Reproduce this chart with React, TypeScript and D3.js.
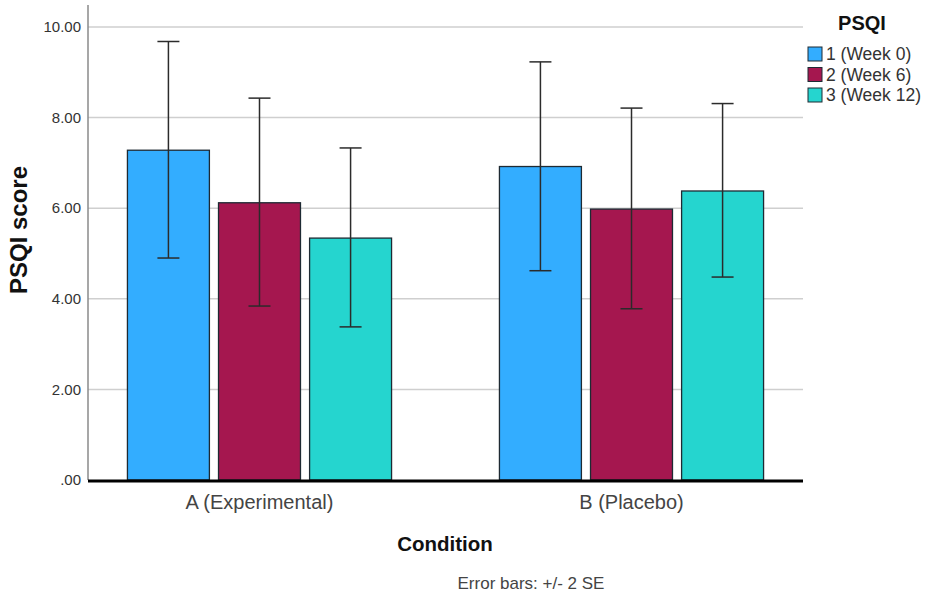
import React from "react";
import * as d3 from "d3";

const conditions = ["A (Experimental)", "B (Placebo)"];
const seriesNames = ["1 (Week 0)", "2 (Week 6)", "3 (Week 12)"];
const seriesColors = ["#33adff", "#a5174f", "#25d5cf"];
const meanA = [7.28, 6.12, 5.34];
const meanB = [6.92, 5.98, 6.38];
const lowA = [4.9, 3.84, 3.38];
const highA = [9.68, 8.43, 7.33];
const lowB = [4.62, 3.78, 4.48];
const highB = [9.23, 8.21, 8.31];
const yTicks = [0, 2, 4, 6, 8, 10];
const yTickLabels = [".00", "2.00", "4.00", "6.00", "8.00", "10.00"];

const means = [meanA, meanB];
const lows = [lowA, lowB];
const highs = [highA, highB];

export default function App() {
  const W = 935, H = 600;
  const left = 88, right = 803, top = 5, bottom = 480;
  const y = d3.scaleLinear().domain([0, 10]).range([bottom, 27]);
  const x0 = d3.scaleBand().domain(conditions).range([left, right]).paddingInner(0.29).paddingOuter(0.106);
  const x1 = d3.scaleBand().domain(seriesNames).range([0, x0.bandwidth()]).paddingInner(0.1);
  const font = "Arial, 'Liberation Sans', sans-serif";
  const capHalf = 11;
  return (
    <svg width={W} height={H} style={{ position: "absolute", left: 0, top: 0, background: "#fff" }} fontFamily={font}>
      <rect width={W} height={H} fill="#fff" />
      {yTicks.filter(t => t > 0).map(t => (
        <line key={t} x1={left} x2={right} y1={y(t)} y2={y(t)} stroke="#cfcfcf" strokeWidth={1.5} />
      ))}
      <line x1={left} x2={left} y1={top} y2={bottom} stroke="#8a8a8a" strokeWidth={1.5} />
      {yTicks.map((t, i) => (
        <text key={t} x={81} y={y(t)} dy="0.35em" textAnchor="end" fontSize={15} fill="#333">{yTickLabels[i]}</text>
      ))}
      {conditions.map((c, ci) => (
        <g key={c}>
          {seriesNames.map((s, si) => {
            const bx = (x0(c) as number) + (x1(s) as number);
            const bw = x1.bandwidth();
            return (
              <rect key={s} x={bx} y={y(means[ci][si])} width={bw} height={y(0) - y(means[ci][si])}
                fill={seriesColors[si]} stroke="#1e2a33" strokeWidth={1.3} />
            );
          })}
          {seriesNames.map((s, si) => {
            const cx = (x0(c) as number) + (x1(s) as number) + x1.bandwidth() / 2;
            const yl = y(lows[ci][si]), yh = y(highs[ci][si]);
            return (
              <g key={s + "e"} stroke="#2b2b2b" strokeWidth={1.5}>
                <line x1={cx} x2={cx} y1={yh} y2={yl} />
                <line x1={cx - capHalf} x2={cx + capHalf} y1={yh} y2={yh} />
                <line x1={cx - capHalf} x2={cx + capHalf} y1={yl} y2={yl} />
              </g>
            );
          })}
          <text x={(x0(c) as number) + x0.bandwidth() / 2} y={509} textAnchor="middle" fontSize={20} fill="#444">{c}</text>
        </g>
      ))}
      <line x1={left} x2={right} y1={bottom + 1} y2={bottom + 1} stroke="#000" strokeWidth={3} />
      <text transform={`translate(27, 230) rotate(-90)`} textAnchor="middle" fontSize={24} fontWeight="bold" fill="#111">PSQI score</text>
      <text x={445} y={551} textAnchor="middle" fontSize={20.5} fontWeight="bold" fill="#111">Condition</text>
      <text x={531} y={589} textAnchor="middle" fontSize={17} fill="#444">Error bars: +/- 2 SE</text>
      <text x={862} y={30} textAnchor="middle" fontSize={20} fontWeight="bold" fill="#111">PSQI</text>
      {seriesNames.map((s, si) => (
        <g key={s}>
          <rect x={808} y={47 + si * 20.5} width={14} height={14} fill={seriesColors[si]} stroke="#1e2a33" strokeWidth={1} />
          <text x={826} y={54 + si * 20.5} dy="0.35em" fontSize={17.5} fill="#333">{s}</text>
        </g>
      ))}
    </svg>
  );
}
